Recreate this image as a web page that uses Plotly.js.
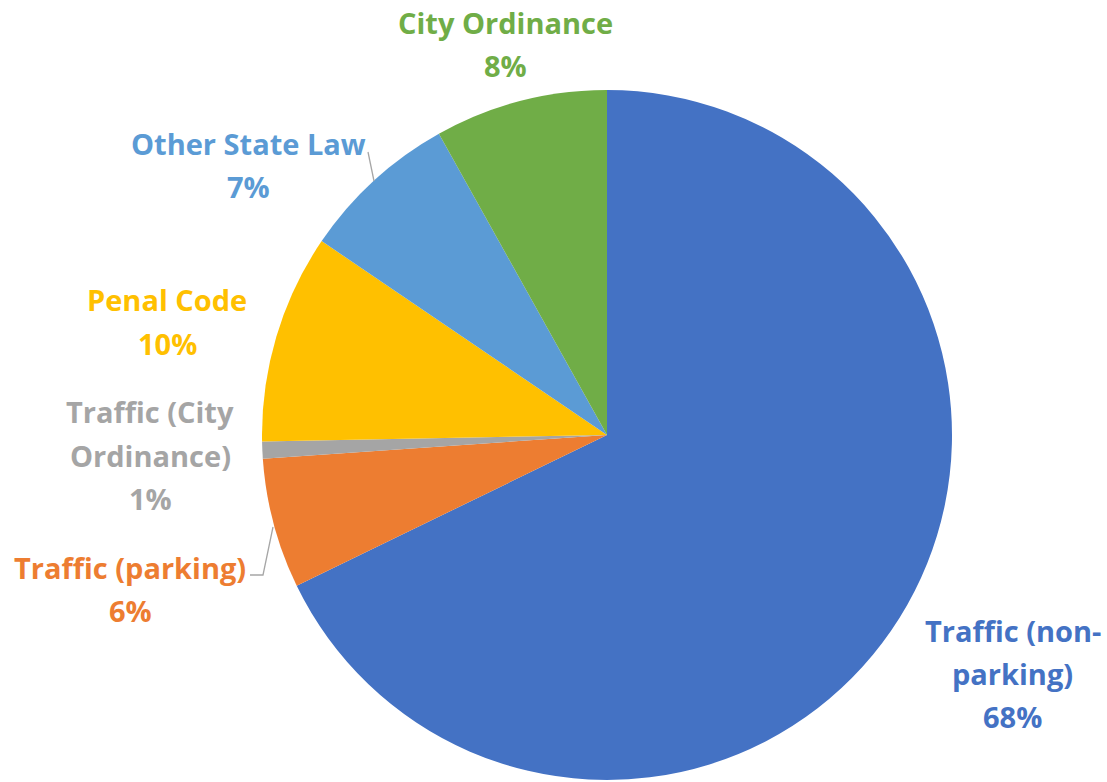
<!DOCTYPE html>
<html>
<head>
<meta charset="utf-8">
<script src="https://cdn.plot.ly/plotly-3.0.1.min.js"></script>
<style>html,body{margin:0;padding:0;background:#fff;}#chart{width:1107px;height:782px;}</style>
</head>
<body>
<div id="chart"></div>
<script>
// ---- data ----
const categories = ["Traffic (non-parking)", "Traffic (parking)", "Traffic (City Ordinance)", "Penal Code", "Other State Law", "City Ordinance"];
const shares = [67.8, 6.1, 0.8, 9.8, 7.4, 8.1];
const labelLines = [["Traffic (non-", "parking)"], ["Traffic (parking)"], ["Traffic (City", "Ordinance)"], ["Penal Code"], ["Other State Law"], ["City Ordinance"]];
const colors = ["#4472C4", "#ED7D31", "#A5A5A5", "#FFC000", "#5B9BD5", "#70AD47"];

// ---- layout helpers ----
const W = 1107, H = 782;
const px = x => x / W;
const py = y => 1 - y / H;
// label anchor: center x, first line y (pixels)
const labelPos = [[1013, 630], [130, 567], [150, 412], [167, 300], [248, 143], [505, 22]];
const lineGap = 43;
const FONT = "'Open Sans', sans-serif";

const annotations = [];
categories.forEach((c, i) => {
  const lines = labelLines[i].concat([Math.round(shares[i]) + "%"]);
  lines.forEach((t, k) => {
    annotations.push({
      xref: "paper", yref: "paper",
      x: px(labelPos[i][0]), y: py(labelPos[i][1] + k * lineGap),
      xanchor: "center", yanchor: "middle",
      text: "<b>" + t + "</b>", showarrow: false,
      font: {family: FONT, size: 29, color: colors[i]}
    });
  });
});

const lineStyle = {color: "#A6A6A6", width: 1.3};
const shapes = [
  {type: "line", xref: "paper", yref: "paper", x0: px(368), y0: py(152), x1: px(374), y1: py(181), line: lineStyle},
  {type: "path", xref: "paper", yref: "paper",
   path: "M " + px(273) + " " + py(527) + " L " + px(263) + " " + py(575) + " L " + px(250) + " " + py(575),
   line: lineStyle}
];

const trace = {
  type: "pie",
  labels: categories,
  values: shares,
  sort: false,
  direction: "clockwise",
  rotation: 0,
  textinfo: "none",
  hoverinfo: "skip",
  marker: {colors: colors, line: {width: 0}},
  domain: {x: [px(262), px(952)], y: [py(780), py(90)]},
  showlegend: false
};

Plotly.newPlot("chart", [trace], {
  width: W, height: H,
  margin: {l: 0, r: 0, t: 0, b: 0},
  paper_bgcolor: "#fff",
  showlegend: false,
  annotations: annotations,
  shapes: shapes
}, {staticPlot: true});
</script>
</body>
</html>
